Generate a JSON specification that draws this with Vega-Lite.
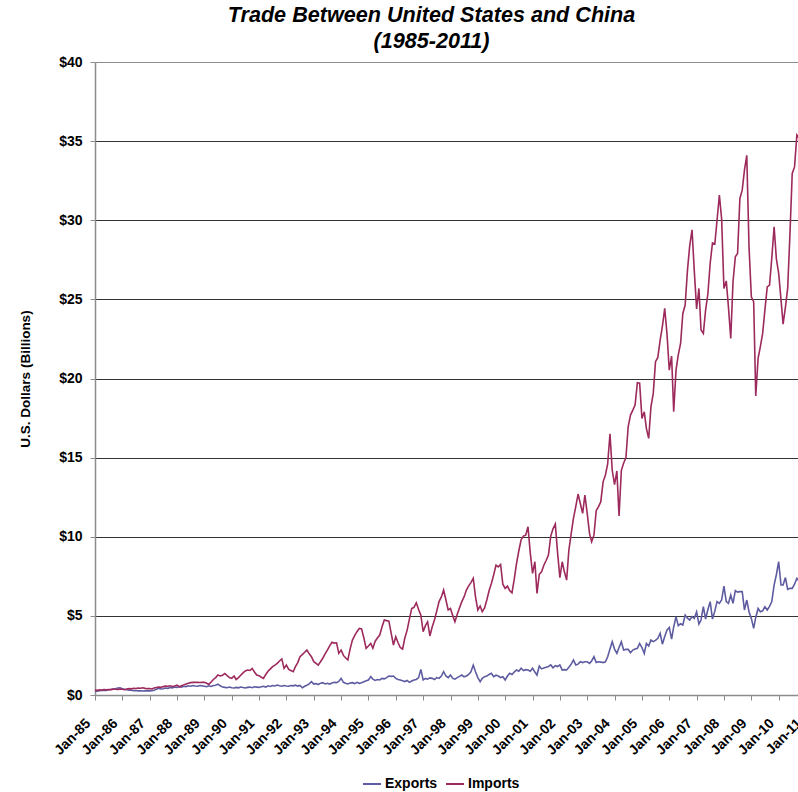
{
  "$schema": "https://vega.github.io/schema/vega-lite/v6.json",
  "autosize": {"type": "none"},
  "padding": {"left": 95, "top": 62, "right": 0, "bottom": 97},
  "width": 703,
  "height": 633,
  "background": "white",
  "config": {
    "font": "Liberation Sans",
    "view": {"stroke": null}
  },
  "title": {
    "text": ["Trade Between United States and China", "(1985-2011)"],
    "font": "Liberation Sans",
    "fontSize": 21.6,
    "fontWeight": "bold",
    "fontStyle": "italic",
    "color": "#000000",
    "lineHeight": 26,
    "anchor": "middle",
    "dx": -15,
    "offset": 2
  },
  "data": {
    "format": {"parse": {"m": "date:'%Y-%m'"}},
    "values": [
      {"m":"1985-01","Exports":0.25,"Imports":0.31},{"m":"1985-02","Exports":0.24,"Imports":0.29},{"m":"1985-03","Exports":0.27,"Imports":0.33},{"m":"1985-04","Exports":0.28,"Imports":0.32},{"m":"1985-05","Exports":0.30,"Imports":0.34},{"m":"1985-06","Exports":0.29,"Imports":0.33},{"m":"1985-07","Exports":0.33,"Imports":0.35},{"m":"1985-08","Exports":0.35,"Imports":0.34},{"m":"1985-09","Exports":0.38,"Imports":0.37},{"m":"1985-10","Exports":0.40,"Imports":0.36},{"m":"1985-11","Exports":0.44,"Imports":0.35},{"m":"1985-12","Exports":0.46,"Imports":0.37},
      {"m":"1986-01","Exports":0.40,"Imports":0.36},{"m":"1986-02","Exports":0.36,"Imports":0.33},{"m":"1986-03","Exports":0.33,"Imports":0.38},{"m":"1986-04","Exports":0.31,"Imports":0.40},{"m":"1986-05","Exports":0.30,"Imports":0.39},{"m":"1986-06","Exports":0.27,"Imports":0.42},{"m":"1986-07","Exports":0.28,"Imports":0.41},{"m":"1986-08","Exports":0.26,"Imports":0.44},{"m":"1986-09","Exports":0.27,"Imports":0.43},{"m":"1986-10","Exports":0.25,"Imports":0.46},{"m":"1986-11","Exports":0.27,"Imports":0.42},{"m":"1986-12","Exports":0.26,"Imports":0.40},
      {"m":"1987-01","Exports":0.26,"Imports":0.41},{"m":"1987-02","Exports":0.27,"Imports":0.38},{"m":"1987-03","Exports":0.30,"Imports":0.44},{"m":"1987-04","Exports":0.36,"Imports":0.47},{"m":"1987-05","Exports":0.42,"Imports":0.50},{"m":"1987-06","Exports":0.38,"Imports":0.48},{"m":"1987-07","Exports":0.40,"Imports":0.53},{"m":"1987-08","Exports":0.44,"Imports":0.56},{"m":"1987-09","Exports":0.42,"Imports":0.55},{"m":"1987-10","Exports":0.47,"Imports":0.58},{"m":"1987-11","Exports":0.45,"Imports":0.54},{"m":"1987-12","Exports":0.50,"Imports":0.57},
      {"m":"1988-01","Exports":0.48,"Imports":0.62},{"m":"1988-02","Exports":0.52,"Imports":0.52},{"m":"1988-03","Exports":0.50,"Imports":0.58},{"m":"1988-04","Exports":0.55,"Imports":0.64},{"m":"1988-05","Exports":0.53,"Imports":0.70},{"m":"1988-06","Exports":0.58,"Imports":0.74},{"m":"1988-07","Exports":0.55,"Imports":0.78},{"m":"1988-08","Exports":0.60,"Imports":0.80},{"m":"1988-09","Exports":0.57,"Imports":0.81},{"m":"1988-10","Exports":0.55,"Imports":0.80},{"m":"1988-11","Exports":0.60,"Imports":0.79},{"m":"1988-12","Exports":0.58,"Imports":0.81},
      {"m":"1989-01","Exports":0.55,"Imports":0.80},{"m":"1989-02","Exports":0.52,"Imports":0.74},{"m":"1989-03","Exports":0.58,"Imports":0.67},{"m":"1989-04","Exports":0.54,"Imports":0.82},{"m":"1989-05","Exports":0.60,"Imports":0.98},{"m":"1989-06","Exports":0.62,"Imports":1.10},{"m":"1989-07","Exports":0.69,"Imports":1.26},{"m":"1989-08","Exports":0.58,"Imports":1.20},{"m":"1989-09","Exports":0.50,"Imports":1.25},{"m":"1989-10","Exports":0.48,"Imports":1.36},{"m":"1989-11","Exports":0.46,"Imports":1.22},{"m":"1989-12","Exports":0.50,"Imports":1.10},
      {"m":"1990-01","Exports":0.46,"Imports":1.05},{"m":"1990-02","Exports":0.44,"Imports":1.20},{"m":"1990-03","Exports":0.48,"Imports":0.98},{"m":"1990-04","Exports":0.45,"Imports":1.10},{"m":"1990-05","Exports":0.50,"Imports":1.25},{"m":"1990-06","Exports":0.47,"Imports":1.40},{"m":"1990-07","Exports":0.44,"Imports":1.52},{"m":"1990-08","Exports":0.48,"Imports":1.58},{"m":"1990-09","Exports":0.50,"Imports":1.55},{"m":"1990-10","Exports":0.46,"Imports":1.68},{"m":"1990-11","Exports":0.52,"Imports":1.45},{"m":"1990-12","Exports":0.50,"Imports":1.26},
      {"m":"1991-01","Exports":0.48,"Imports":1.22},{"m":"1991-02","Exports":0.52,"Imports":1.12},{"m":"1991-03","Exports":0.55,"Imports":1.05},{"m":"1991-04","Exports":0.50,"Imports":1.30},{"m":"1991-05","Exports":0.58,"Imports":1.50},{"m":"1991-06","Exports":0.54,"Imports":1.65},{"m":"1991-07","Exports":0.60,"Imports":1.79},{"m":"1991-08","Exports":0.57,"Imports":1.89},{"m":"1991-09","Exports":0.63,"Imports":2.00},{"m":"1991-10","Exports":0.58,"Imports":2.15},{"m":"1991-11","Exports":0.55,"Imports":2.28},{"m":"1991-12","Exports":0.60,"Imports":1.68},
      {"m":"1992-01","Exports":0.57,"Imports":1.89},{"m":"1992-02","Exports":0.55,"Imports":1.62},{"m":"1992-03","Exports":0.60,"Imports":1.55},{"m":"1992-04","Exports":0.58,"Imports":1.47},{"m":"1992-05","Exports":0.62,"Imports":1.79},{"m":"1992-06","Exports":0.56,"Imports":2.05},{"m":"1992-07","Exports":0.60,"Imports":2.42},{"m":"1992-08","Exports":0.46,"Imports":2.55},{"m":"1992-09","Exports":0.55,"Imports":2.70},{"m":"1992-10","Exports":0.62,"Imports":2.84},{"m":"1992-11","Exports":0.70,"Imports":2.60},{"m":"1992-12","Exports":0.84,"Imports":2.42},
      {"m":"1993-01","Exports":0.69,"Imports":2.11},{"m":"1993-02","Exports":0.72,"Imports":2.00},{"m":"1993-03","Exports":0.66,"Imports":1.89},{"m":"1993-04","Exports":0.75,"Imports":2.10},{"m":"1993-05","Exports":0.78,"Imports":2.32},{"m":"1993-06","Exports":0.70,"Imports":2.60},{"m":"1993-07","Exports":0.74,"Imports":2.84},{"m":"1993-08","Exports":0.69,"Imports":3.10},{"m":"1993-09","Exports":0.76,"Imports":3.33},{"m":"1993-10","Exports":0.80,"Imports":3.28},{"m":"1993-11","Exports":0.78,"Imports":3.30},{"m":"1993-12","Exports":0.86,"Imports":2.63},
      {"m":"1994-01","Exports":1.05,"Imports":2.84},{"m":"1994-02","Exports":0.80,"Imports":2.50},{"m":"1994-03","Exports":0.74,"Imports":2.35},{"m":"1994-04","Exports":0.70,"Imports":2.21},{"m":"1994-05","Exports":0.76,"Imports":2.90},{"m":"1994-06","Exports":0.78,"Imports":3.47},{"m":"1994-07","Exports":0.72,"Imports":3.75},{"m":"1994-08","Exports":0.80,"Imports":4.00},{"m":"1994-09","Exports":0.74,"Imports":4.21},{"m":"1994-10","Exports":0.78,"Imports":4.18},{"m":"1994-11","Exports":0.84,"Imports":3.60},{"m":"1994-12","Exports":0.90,"Imports":2.95},
      {"m":"1995-01","Exports":0.95,"Imports":3.10},{"m":"1995-02","Exports":1.16,"Imports":3.26},{"m":"1995-03","Exports":1.00,"Imports":2.95},{"m":"1995-04","Exports":0.92,"Imports":3.40},{"m":"1995-05","Exports":0.98,"Imports":3.60},{"m":"1995-06","Exports":0.95,"Imports":3.79},{"m":"1995-07","Exports":1.05,"Imports":4.30},{"m":"1995-08","Exports":1.02,"Imports":4.74},{"m":"1995-09","Exports":1.10,"Imports":4.70},{"m":"1995-10","Exports":1.20,"Imports":4.67},{"m":"1995-11","Exports":1.18,"Imports":3.90},{"m":"1995-12","Exports":1.20,"Imports":3.16},
      {"m":"1996-01","Exports":1.05,"Imports":3.68},{"m":"1996-02","Exports":0.98,"Imports":3.30},{"m":"1996-03","Exports":0.95,"Imports":3.00},{"m":"1996-04","Exports":0.90,"Imports":2.90},{"m":"1996-05","Exports":0.85,"Imports":3.60},{"m":"1996-06","Exports":0.92,"Imports":4.10},{"m":"1996-07","Exports":0.80,"Imports":4.80},{"m":"1996-08","Exports":0.88,"Imports":5.47},{"m":"1996-09","Exports":0.95,"Imports":5.54},{"m":"1996-10","Exports":0.98,"Imports":5.83},{"m":"1996-11","Exports":1.10,"Imports":5.40},{"m":"1996-12","Exports":1.62,"Imports":5.05},
      {"m":"1997-01","Exports":0.95,"Imports":4.00},{"m":"1997-02","Exports":1.05,"Imports":4.40},{"m":"1997-03","Exports":1.00,"Imports":4.63},{"m":"1997-04","Exports":1.08,"Imports":3.73},{"m":"1997-05","Exports":1.05,"Imports":4.30},{"m":"1997-06","Exports":0.98,"Imports":4.74},{"m":"1997-07","Exports":1.10,"Imports":5.30},{"m":"1997-08","Exports":1.05,"Imports":5.90},{"m":"1997-09","Exports":1.20,"Imports":6.20},{"m":"1997-10","Exports":1.47,"Imports":6.63},{"m":"1997-11","Exports":1.20,"Imports":6.00},{"m":"1997-12","Exports":1.10,"Imports":5.37},
      {"m":"1998-01","Exports":1.26,"Imports":5.47},{"m":"1998-02","Exports":1.05,"Imports":5.00},{"m":"1998-03","Exports":1.00,"Imports":4.63},{"m":"1998-04","Exports":1.10,"Imports":5.10},{"m":"1998-05","Exports":1.18,"Imports":5.50},{"m":"1998-06","Exports":1.26,"Imports":5.90},{"m":"1998-07","Exports":1.15,"Imports":6.20},{"m":"1998-08","Exports":1.20,"Imports":6.63},{"m":"1998-09","Exports":1.30,"Imports":6.90},{"m":"1998-10","Exports":1.47,"Imports":7.10},{"m":"1998-11","Exports":1.89,"Imports":7.37},{"m":"1998-12","Exports":1.47,"Imports":6.20},
      {"m":"1999-01","Exports":1.10,"Imports":5.37},{"m":"1999-02","Exports":0.84,"Imports":5.62},{"m":"1999-03","Exports":1.05,"Imports":5.26},{"m":"1999-04","Exports":1.16,"Imports":5.50},{"m":"1999-05","Exports":1.20,"Imports":6.00},{"m":"1999-06","Exports":1.30,"Imports":6.60},{"m":"1999-07","Exports":1.37,"Imports":7.05},{"m":"1999-08","Exports":1.16,"Imports":7.60},{"m":"1999-09","Exports":1.25,"Imports":8.21},{"m":"1999-10","Exports":1.20,"Imports":8.10},{"m":"1999-11","Exports":1.10,"Imports":8.25},{"m":"1999-12","Exports":1.15,"Imports":7.00},
      {"m":"2000-01","Exports":0.95,"Imports":6.74},{"m":"2000-02","Exports":1.20,"Imports":6.88},{"m":"2000-03","Exports":1.37,"Imports":6.60},{"m":"2000-04","Exports":1.30,"Imports":6.46},{"m":"2000-05","Exports":1.45,"Imports":7.30},{"m":"2000-06","Exports":1.58,"Imports":8.32},{"m":"2000-07","Exports":1.50,"Imports":9.10},{"m":"2000-08","Exports":1.69,"Imports":9.80},{"m":"2000-09","Exports":1.55,"Imports":10.04},{"m":"2000-10","Exports":1.60,"Imports":10.10},{"m":"2000-11","Exports":1.58,"Imports":10.63},{"m":"2000-12","Exports":1.50,"Imports":9.00},
      {"m":"2001-01","Exports":1.69,"Imports":7.68},{"m":"2001-02","Exports":1.45,"Imports":8.42},{"m":"2001-03","Exports":1.26,"Imports":6.42},{"m":"2001-04","Exports":1.83,"Imports":7.63},{"m":"2001-05","Exports":1.65,"Imports":7.79},{"m":"2001-06","Exports":1.70,"Imports":8.20},{"m":"2001-07","Exports":1.75,"Imports":8.50},{"m":"2001-08","Exports":1.80,"Imports":8.84},{"m":"2001-09","Exports":1.90,"Imports":10.04},{"m":"2001-10","Exports":1.72,"Imports":10.50},{"m":"2001-11","Exports":1.85,"Imports":10.80},{"m":"2001-12","Exports":1.80,"Imports":9.00},
      {"m":"2002-01","Exports":1.90,"Imports":7.42},{"m":"2002-02","Exports":1.58,"Imports":8.42},{"m":"2002-03","Exports":1.60,"Imports":7.80},{"m":"2002-04","Exports":1.58,"Imports":7.26},{"m":"2002-05","Exports":1.75,"Imports":9.16},{"m":"2002-06","Exports":1.95,"Imports":10.20},{"m":"2002-07","Exports":2.21,"Imports":11.16},{"m":"2002-08","Exports":1.90,"Imports":11.90},{"m":"2002-09","Exports":1.95,"Imports":12.70},{"m":"2002-10","Exports":2.10,"Imports":12.10},{"m":"2002-11","Exports":2.05,"Imports":11.48},{"m":"2002-12","Exports":2.10,"Imports":12.63},
      {"m":"2003-01","Exports":2.10,"Imports":11.48},{"m":"2003-02","Exports":2.00,"Imports":10.20},{"m":"2003-03","Exports":2.15,"Imports":9.68},{"m":"2003-04","Exports":2.42,"Imports":10.10},{"m":"2003-05","Exports":2.05,"Imports":11.65},{"m":"2003-06","Exports":2.10,"Imports":11.90},{"m":"2003-07","Exports":2.08,"Imports":12.20},{"m":"2003-08","Exports":2.05,"Imports":13.47},{"m":"2003-09","Exports":2.10,"Imports":13.90},{"m":"2003-10","Exports":2.42,"Imports":14.60},{"m":"2003-11","Exports":2.90,"Imports":16.50},{"m":"2003-12","Exports":3.37,"Imports":14.20},
      {"m":"2004-01","Exports":2.90,"Imports":13.30},{"m":"2004-02","Exports":2.63,"Imports":14.16},{"m":"2004-03","Exports":3.00,"Imports":11.32},{"m":"2004-04","Exports":3.37,"Imports":14.20},{"m":"2004-05","Exports":2.84,"Imports":14.64},{"m":"2004-06","Exports":2.88,"Imports":15.00},{"m":"2004-07","Exports":2.88,"Imports":16.95},{"m":"2004-08","Exports":2.67,"Imports":17.69},{"m":"2004-09","Exports":2.84,"Imports":18.00},{"m":"2004-10","Exports":2.90,"Imports":18.32},{"m":"2004-11","Exports":2.95,"Imports":19.73},{"m":"2004-12","Exports":3.26,"Imports":19.70},
      {"m":"2005-01","Exports":3.00,"Imports":17.48},{"m":"2005-02","Exports":2.63,"Imports":17.90},{"m":"2005-03","Exports":3.26,"Imports":16.85},{"m":"2005-04","Exports":3.10,"Imports":16.22},{"m":"2005-05","Exports":3.47,"Imports":18.21},{"m":"2005-06","Exports":3.37,"Imports":19.06},{"m":"2005-07","Exports":3.45,"Imports":21.06},{"m":"2005-08","Exports":3.58,"Imports":21.33},{"m":"2005-09","Exports":3.90,"Imports":22.43},{"m":"2005-10","Exports":3.21,"Imports":23.30},{"m":"2005-11","Exports":3.70,"Imports":24.43},{"m":"2005-12","Exports":4.10,"Imports":22.85},
      {"m":"2006-01","Exports":4.27,"Imports":20.53},{"m":"2006-02","Exports":3.53,"Imports":21.42},{"m":"2006-03","Exports":4.30,"Imports":17.90},{"m":"2006-04","Exports":4.95,"Imports":20.53},{"m":"2006-05","Exports":4.38,"Imports":21.50},{"m":"2006-06","Exports":4.50,"Imports":22.22},{"m":"2006-07","Exports":4.42,"Imports":24.11},{"m":"2006-08","Exports":5.05,"Imports":24.64},{"m":"2006-09","Exports":4.85,"Imports":26.85},{"m":"2006-10","Exports":4.74,"Imports":28.40},{"m":"2006-11","Exports":4.95,"Imports":29.40},{"m":"2006-12","Exports":4.84,"Imports":26.80},
      {"m":"2007-01","Exports":5.26,"Imports":24.40},{"m":"2007-02","Exports":4.48,"Imports":25.69},{"m":"2007-03","Exports":4.74,"Imports":23.06},{"m":"2007-04","Exports":5.58,"Imports":22.85},{"m":"2007-05","Exports":4.80,"Imports":24.32},{"m":"2007-06","Exports":5.40,"Imports":25.37},{"m":"2007-07","Exports":5.90,"Imports":27.27},{"m":"2007-08","Exports":4.80,"Imports":28.57},{"m":"2007-09","Exports":5.30,"Imports":28.50},{"m":"2007-10","Exports":5.90,"Imports":30.00},{"m":"2007-11","Exports":5.79,"Imports":31.59},{"m":"2007-12","Exports":6.00,"Imports":30.10},
      {"m":"2008-01","Exports":6.88,"Imports":25.69},{"m":"2008-02","Exports":5.90,"Imports":26.17},{"m":"2008-03","Exports":5.79,"Imports":24.53},{"m":"2008-04","Exports":6.32,"Imports":22.53},{"m":"2008-05","Exports":5.79,"Imports":26.10},{"m":"2008-06","Exports":6.60,"Imports":27.69},{"m":"2008-07","Exports":6.50,"Imports":27.90},{"m":"2008-08","Exports":6.53,"Imports":31.38},{"m":"2008-09","Exports":6.53,"Imports":31.90},{"m":"2008-10","Exports":5.37,"Imports":33.17},{"m":"2008-11","Exports":6.00,"Imports":34.10},{"m":"2008-12","Exports":5.26,"Imports":28.32},
      {"m":"2009-01","Exports":4.84,"Imports":25.16},{"m":"2009-02","Exports":4.21,"Imports":24.85},{"m":"2009-03","Exports":4.90,"Imports":18.89},{"m":"2009-04","Exports":5.47,"Imports":21.27},{"m":"2009-05","Exports":5.26,"Imports":22.00},{"m":"2009-06","Exports":5.32,"Imports":22.85},{"m":"2009-07","Exports":5.58,"Imports":24.32},{"m":"2009-08","Exports":5.37,"Imports":25.79},{"m":"2009-09","Exports":5.60,"Imports":25.90},{"m":"2009-10","Exports":5.90,"Imports":27.60},{"m":"2009-11","Exports":6.95,"Imports":29.58},{"m":"2009-12","Exports":7.60,"Imports":27.58},
      {"m":"2010-01","Exports":8.42,"Imports":26.64},{"m":"2010-02","Exports":6.95,"Imports":25.00},{"m":"2010-03","Exports":6.95,"Imports":23.44},{"m":"2010-04","Exports":7.42,"Imports":24.50},{"m":"2010-05","Exports":6.68,"Imports":25.69},{"m":"2010-06","Exports":6.74,"Imports":29.17},{"m":"2010-07","Exports":6.74,"Imports":32.96},{"m":"2010-08","Exports":7.00,"Imports":33.37},{"m":"2010-09","Exports":7.37,"Imports":35.38},{"m":"2010-10","Exports":7.20,"Imports":35.17}
    ]
  },
  "transform": [{"fold": ["Exports", "Imports"], "as": ["series", "value"]}],
  "mark": {"type": "line", "strokeWidth": 1.6, "clip": false},
  "encoding": {
    "x": {
      "field": "m",
      "type": "temporal",
      "scale": {
        "domain": [{"year": 1985, "month": 1, "date": 1}, {"year": 2011, "month": 1, "date": 1}],
        "range": [0, 711]
      },
      "axis": {
        "title": null,
        "format": "%b-%y",
        "tickCount": {"interval": "year", "step": 1},
        "labelAngle": -45,
        "labelAlign": "right",
        "labelBaseline": "top",
        "labelFontSize": 14,
        "labelFontWeight": "bold",
        "labelColor": "#000000",
        "labelPadding": 16,
        "labelOffset": -12,
        "labelOverlap": false,
        "labelFlush": false,
        "grid": false,
        "domainColor": "#8c8c8c",
        "domainWidth": 1.5,
        "tickColor": "#8c8c8c",
        "tickSize": 5
      }
    },
    "y": {
      "field": "value",
      "type": "quantitative",
      "scale": {"domain": [0, 40]},
      "axis": {
        "title": "U.S. Dollars (Billions)",
        "values": [0, 5, 10, 15, 20, 25, 30, 35, 40],
        "format": "$.0f",
        "labelFontSize": 14,
        "labelFontWeight": "bold",
        "labelColor": "#000000",
        "labelPadding": 8,
        "titleFontSize": 13.5,
        "titleFontWeight": "bold",
        "titleColor": "#000000",
        "titlePadding": 26,
        "tickSize": 5,
        "tickColor": "#8c8c8c",
        "domainColor": "#8c8c8c",
        "domainWidth": 1.5,
        "grid": true,
        "gridColor": {"condition": {"test": "datum.value === 0 || datum.value === 40", "value": "#8c8c8c"}, "value": "#333333"},
        "gridWidth": 1
      }
    },
    "color": {
      "field": "series",
      "type": "nominal",
      "scale": {"domain": ["Exports", "Imports"], "range": ["#5e5ca0", "#9d2a5c"]},
      "legend": {
        "title": null,
        "orient": "none",
        "direction": "horizontal",
        "legendX": 267,
        "legendY": 712,
        "symbolType": "stroke",
        "symbolSize": 324,
        "symbolStrokeWidth": 2,
        "labelFontSize": 14,
        "labelFontWeight": "bold",
        "labelColor": "#000000",
        "labelOffset": 3,
        "columnPadding": 4
      }
    }
  }
}
